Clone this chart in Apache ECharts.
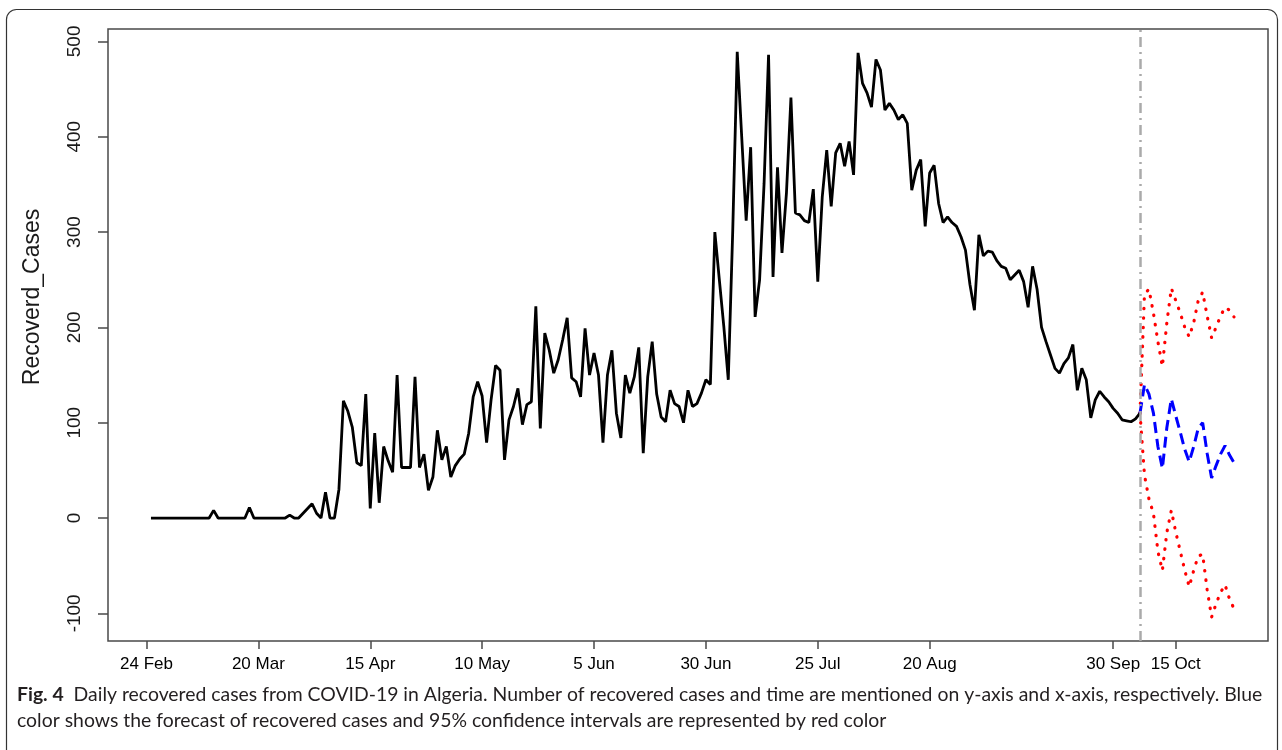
<!DOCTYPE html>
<html>
<head>
<meta charset="utf-8">
<script src="https://cdn.jsdelivr.net/npm/echarts@6/dist/echarts.min.js"></script>
<style>
  html, body { margin: 0; padding: 0; background: #fff; }
  #chart { width: 1282px; height: 750px; }
</style>
</head>
<body>
<div id="chart"></div>
<script>
// Daily recovered cases, day 1 = 25 Feb 2020
const firstDay = 1;
const recovered = [
  0, 0, 0, 0, 0, 0, 0, 0, 0, 0,
  0, 0, 0, 0, 8, 0, 0, 0, 0, 0,
  0, 0, 11, 0, 0, 0, 0, 0, 0, 0,
  0, 3, 0, 0, 5, 10, 15, 5, 0, 27,
  0, 0, 30, 123, 112, 95, 58, 55, 130, 10,
  89, 16, 75, 60, 48, 150, 53, 53, 53, 148,
  53, 67, 29, 43, 92, 61, 75, 43, 55, 62,
  67, 89, 127, 143, 128, 79, 124, 160, 155, 61,
  103, 117, 136, 98, 119, 122, 222, 94, 194, 176,
  152, 166, 187, 210, 147, 143, 127, 199, 150, 173,
  150, 79, 150, 176, 110, 84, 150, 131, 148, 179,
  68, 148, 185, 130, 106, 101, 134, 120, 117, 100,
  134, 117, 120, 131, 145, 140, 300, 250, 201, 145,
  302, 489, 400, 312, 389, 211, 250, 351, 486, 253,
  368, 278, 341, 441, 320, 318, 312, 310, 345, 248,
  337, 386, 327, 383, 393, 369, 395, 360, 488, 456,
  446, 431, 481, 470, 428, 435, 428, 418, 423, 414,
  344, 365, 376, 306, 362, 370, 330, 310, 316, 310,
  306, 295, 281, 245, 218, 297, 275, 280, 279, 270,
  264, 262, 250, 255, 260, 248, 221, 264, 240, 200,
  185, 171, 157, 152, 162, 168, 182, 134, 157, 145,
  105, 124, 133, 127, 122, 115, 110, 103, 102, 101,
  104, 110
];

// Forecast (blue) and 95% confidence bounds (red), days after the last observation
const forecastMean  = [140, 130, 110, 75, 52, 95, 125, 107, 90, 72, 59, 75, 94, 100, 68, 42, 55, 67, 76, 66, 58];
const forecastUpper = [235, 240, 215, 185, 159, 205, 241, 228, 215, 200, 190, 205, 228, 237, 212, 189, 200, 212, 221, 218, 211];
const forecastLower = [45, 20, 5, -35, -55, -15, 8, -15, -35, -55, -72, -55, -40, -38, -75, -104, -90, -78, -70, -85, -95];

// Axis ticks
const xTickDays   = [0, 25, 50, 75, 100, 125, 150, 175, 216, 230];
const xTickLabels = ['24 Feb', '20 Mar', '15 Apr', '10 May', '5 Jun', '30 Jun', '25 Jul', '20 Aug', '30 Sep', '15 Oct'];
const yTicks = [-100, 0, 100, 200, 300, 400, 500];

const yTitle = 'Recoverd_Cases';
const captionBold = 'Fig. 4';
const captionLine1 = 'Daily recovered cases from COVID-19 in Algeria. Number of recovered cases and time are mentioned on y-axis and x-axis, respectively. Blue';
const captionLine2 = 'color shows the forecast of recovered cases and 95% confidence intervals are represented by red color';

const lastDay = firstDay + recovered.length - 1;
const lastValue = recovered[recovered.length - 1];
const observed = recovered.map((v, i) => [firstDay + i, v]);
const withAnchor = arr => [[lastDay, lastValue]].concat(arr.map((v, i) => [lastDay + 1 + i, v]));

const axisFont = 'Liberation Sans';
const captionFont = 'Lato';
const chart = echarts.init(document.getElementById('chart'), null, { renderer: 'canvas' });

chart.setOption({
  animation: false,
  backgroundColor: '#ffffff',
  grid: {
    left: 108, top: 29, right: 14, bottom: 109,
    show: true, borderColor: '#4a4a4a', borderWidth: 1.5, backgroundColor: 'transparent'
  },
  xAxis: {
    type: 'value', min: -8.6, max: 250.6,
    axisLine: { show: false, onZero: false },
    splitLine: { show: false },
    axisTick: { show: true, customValues: xTickDays, length: 8, lineStyle: { color: '#4a4a4a', width: 1.5 } },
    axisLabel: {
      customValues: xTickDays, margin: 15,
      formatter: v => xTickLabels[xTickDays.indexOf(v)],
      fontFamily: axisFont, fontSize: 17, color: '#000'
    }
  },
  yAxis: {
    type: 'value', min: -129, max: 513,
    axisLine: { show: false, onZero: false },
    splitLine: { show: false },
    axisTick: { show: true, customValues: yTicks, length: 10, lineStyle: { color: '#4a4a4a', width: 1.5 } },
    axisLabel: {
      customValues: yTicks, rotate: 90, margin: 24,
      fontFamily: axisFont, fontSize: 19, color: '#1a1a1a'
    }
  },
  series: [
    {
      type: 'line', data: observed, showSymbol: false, silent: true,
      lineStyle: { color: '#000', width: 2.8 },
      markLine: {
        silent: true, symbol: 'none', label: { show: false },
        lineStyle: { color: '#aaaaaa', width: 2.5, type: [10, 5, 2, 5] },
        data: [{ xAxis: lastDay }]
      },
      z: 3
    },
    {
      type: 'line', data: withAnchor(forecastUpper), showSymbol: false, silent: true,
      lineStyle: { color: '#ff0000', width: 3.2, type: [0.5, 9], cap: 'round' }, z: 2
    },
    {
      type: 'line', data: withAnchor(forecastLower), showSymbol: false, silent: true,
      lineStyle: { color: '#ff0000', width: 3.2, type: [0.5, 9], cap: 'round' }, z: 2
    },
    {
      type: 'line', data: withAnchor(forecastMean), showSymbol: false, silent: true,
      lineStyle: { color: '#0000ff', width: 3, type: [11, 6] }, z: 4
    }
  ],
  graphic: [
    {
      type: 'rect', silent: true,
      shape: { x: 6.5, y: 9.5, width: 1271, height: 800, r: 10 },
      style: { fill: 'none', stroke: '#333', lineWidth: 1.2 }
    },
    {
      type: 'text', silent: true, x: 33, y: 297, rotation: Math.PI / 2,
      style: { text: yTitle, fontFamily: axisFont, fontSize: 23, fill: '#1a1a1a', align: 'center', verticalAlign: 'middle' }
    },
    {
      type: 'text', silent: true, x: 17, y: 695,
      style: {
        text: '{b|' + captionBold + '}  ' + captionLine1,
        fontFamily: captionFont, fontSize: 19.4, fill: '#231f20', verticalAlign: 'middle',
        rich: { b: { fontFamily: captionFont, fontSize: 19.4, fontWeight: 'bold', fill: '#231f20' } }
      }
    },
    {
      type: 'text', silent: true, x: 17, y: 721,
      style: { text: captionLine2, fontFamily: captionFont, fontSize: 19.4, fill: '#231f20', verticalAlign: 'middle' }
    }
  ]
});
</script>
</body>
</html>
